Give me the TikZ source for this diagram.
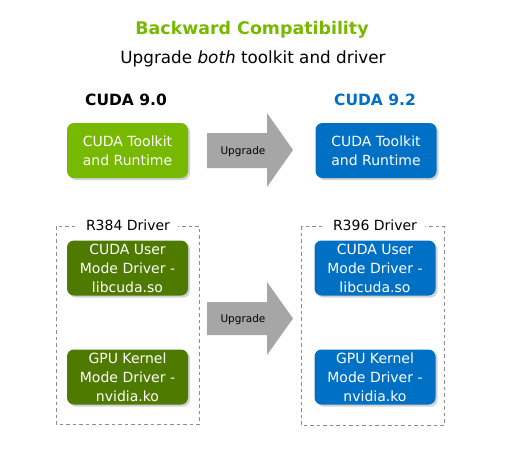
\documentclass[tikz,border=0pt]{standalone}
\usepackage{fontspec}
\setmainfont{DejaVu Sans}
\usepackage{tikz}
\usetikzlibrary{shadows}

\definecolor{nvgreen}{HTML}{76B900}
\definecolor{nvdark}{HTML}{4E7A00}
\definecolor{nvblue}{HTML}{0070C4}
\definecolor{upgray}{HTML}{A6A6A6}
\definecolor{dashgray}{HTML}{8C8C8C}

\tikzset{
  box/.style={rounded corners=7pt,minimum width=121pt,minimum height=55pt,inner sep=0pt,
    text=white,align=center,font=\fontsize{14}{19}\selectfont,
    drop shadow={opacity=0.35,shadow xshift=2pt,shadow yshift=-2pt}},
  group/.style={dashgray,dashed,dash pattern=on 3.5pt off 3pt,line width=0.6pt},
  grouplabel/.style={fill=white,inner xsep=8pt,inner ysep=2pt,font=\fontsize{14}{16}\selectfont},
  upgrade/.style={fill=upgray},
}

\begin{document}
\begin{tikzpicture}[x=1pt,y=-1pt]
						\useasboundingbox[fill=white] (0,0) rectangle (519,453);
						% titles
						\node[text=nvgreen,font=\fontsize{17.4}{22}\selectfont\bfseries] (title) at (252,30) {Backward Compatibility};
						\node[font=\fontsize{16.8}{22}\selectfont] (sub) at (253,59) {Upgrade \textit{both} toolkit and driver};
						\node[font=\fontsize{15.5}{18}\selectfont\bfseries] (old) at (126,100) {CUDA 9.0};
						\node[text=nvblue,font=\fontsize{15.5}{18}\selectfont\bfseries] (new) at (375,100) {CUDA 9.2};
						% driver groups
						\draw[group] (56,226) rectangle (199,424);
						\draw[group] (301,226) rectangle (444,425);
						\node[grouplabel] (oldgrp) at (128,225) {R384 Driver};
						\node[grouplabel] (newgrp) at (375,225) {R396 Driver};
						% boxes
						\node[box,fill=nvgreen] (oldkit) at (127.5,150.5) {CUDA Toolkit\\and Runtime};
						\node[box,fill=nvblue] (newkit) at (376,150.5) {CUDA Toolkit\\and Runtime};
						\node[box,fill=nvdark] (oldumd) at (127.5,268) {CUDA User\\Mode Driver -\\libcuda.so};
						\node[box,fill=nvdark] (oldkmd) at (127.5,377) {GPU Kernel\\Mode Driver -\\nvidia.ko};
						\node[box,fill=nvblue] (newumd) at (375,268) {CUDA User\\Mode Driver -\\libcuda.so};
						\node[box,fill=nvblue] (newkmd) at (375,377) {GPU Kernel\\Mode Driver -\\nvidia.ko};
						% upgrade arrows
						\fill[upgrade] (207,133)--(267,133)--(267,113)--(293,150)--(267,187)--(267,168)--(207,168)--cycle;
						\node[font=\fontsize{10.5}{13}\selectfont] (up1) at (243,152) {Upgrade};
						\fill[upgrade] (207,302)--(267,302)--(267,282)--(293,318.5)--(267,355)--(267,335)--(207,335)--cycle;
						\node[font=\fontsize{10.5}{13}\selectfont] (up2) at (243,320) {Upgrade};
					\end{tikzpicture}
\end{document}
